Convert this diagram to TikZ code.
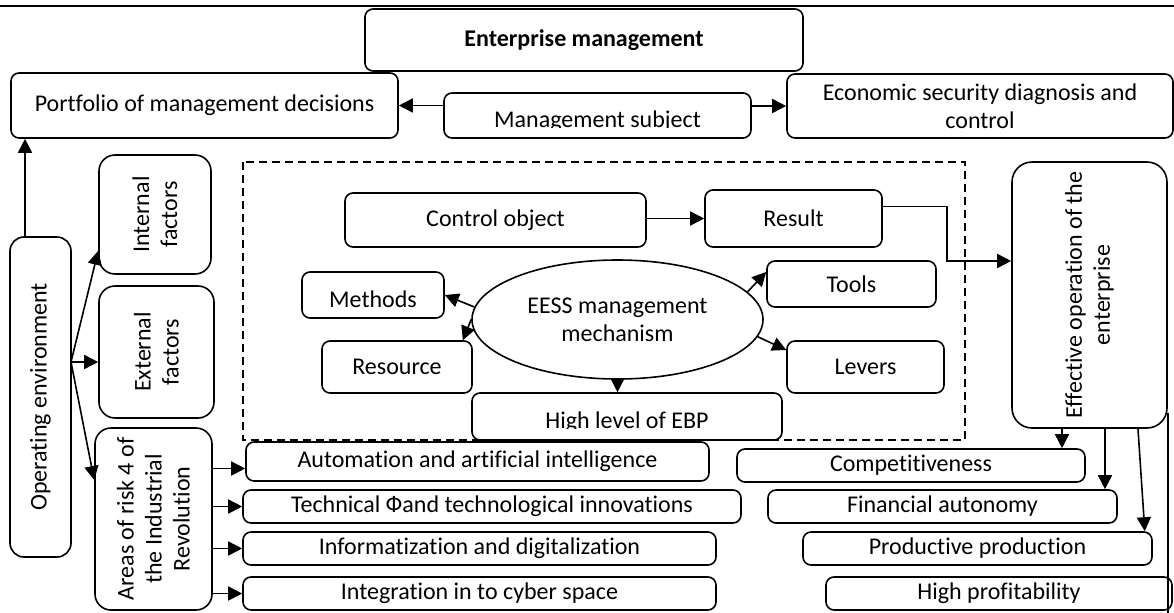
\documentclass[tikz,border=0pt]{standalone}
\usepackage{fontspec}
\setmainfont{Carlito}[Ligatures={NoCommon}]
\usepackage{trimclip}
\usetikzlibrary{arrows.meta,shapes.geometric}

% text whose lower part is cut off by its box
\newcommand{\cuttext}[1]{\clipbox{0pt {\depth} 0pt 0pt}{#1}}

\begin{document}
\begin{tikzpicture}[x=0.5pt, y=-0.5pt, line width=0.8pt, >={Triangle[length=7pt,width=7pt]},
	every node/.style={font=\fontsize{12pt}{14pt}\selectfont},
	box/.style={rectangle, draw, rounded corners=4pt, inner sep=0pt, align=center},
	vbox/.style={box, rotate=90, rounded corners=7pt},
	item/.style={box, minimum height=16.5pt}]
	\useasboundingbox (0,0) rectangle (1174,612);
	\draw[line width=1pt] (0,6) -- (1174,6);

	% top row
	\node[box, font=\fontsize{12pt}{14pt}\selectfont\bfseries, minimum width=219pt, minimum height=31pt] (enterprise) at (584,40) {Enterprise management};
	\node[box, minimum width=193.5pt, minimum height=32.5pt] (portfolio) at (204.5,105.5) {Portfolio of management decisions};
	\node[box, minimum width=153.5pt, minimum height=22.5pt, text height=12pt, text depth=0pt] (subject) at (597.5,115.5) {\cuttext{Management subject}};
	\node[box, minimum width=193pt, minimum height=32pt] (economic) at (980,106) {Economic security diagnosis and\\control};

	% left column
	\node[vbox, minimum width=160pt, minimum height=30.5pt] (openv) at (40.5,397) {Operating environment};
	\node[vbox, rounded corners=8pt, minimum width=59.5pt, minimum height=56pt] (internal) at (155,214.5) {Internal\\factors};
	\node[vbox, rounded corners=8pt, minimum width=66pt, minimum height=57.5pt] (external) at (156.5,352) {External\\factors};
	\node[vbox, rounded corners=8pt, minimum width=91pt, minimum height=58.5pt] (areas) at (153.5,519) {Areas of risk 4 of\\the Industrial\\Revolution};

	% mechanism
	\draw[dashed, dash pattern=on 4pt off 2.5pt] (243,162) rectangle (965,440);
	\node[box, minimum width=150.5pt, minimum height=27pt] (control) at (495.5,220) {Control object};
	\node[box, minimum width=88.5pt, minimum height=28.5pt] (result) at (793.5,218.5) {Result};
	\node[ellipse, draw, inner sep=0pt, align=center, minimum width=145.5pt, minimum height=59.5pt] (eess) at (617.5,319.5) {EESS management\\mechanism};
	\node[box, minimum width=71pt, minimum height=23pt, text height=12pt, text depth=0pt] (methods) at (373,295) {\cuttext{Methods}};
	\node[box, minimum width=75pt, minimum height=26pt] (resource) at (397,367) {Resource};
	\node[box, minimum width=84.5pt, minimum height=23pt] (tools) at (851.5,284) {Tools};
	\node[box, minimum width=78.5pt, minimum height=26pt] (levers) at (865.5,367) {Levers};
	\node[box, minimum width=155pt, minimum height=23.5pt, text height=11.5pt, text depth=0pt] (ebp) at (627,416.5) {\cuttext{High level of EBP}};

	\node[vbox, rounded corners=10pt, minimum width=133pt, minimum height=77.5pt] (effective) at (1089.5,295) {Effective operation of the\\enterprise};

	% risk areas
	\node[item, minimum width=231.5pt, minimum height=19.5pt] (auto) at (477.5,461.5) {Automation and artificial intelligence};
	\node[item, minimum width=249pt] (tech) at (492,506.5) {Technical Фand technological innovations};
	\node[item, minimum width=236.5pt] (info) at (479.5,548.5) {Informatization and digitalization};
	\node[item, minimum width=236.5pt] (integ) at (479.5,593.5) {Integration in to cyber space};

	% results
	\node[item, minimum width=174pt] (comp) at (911,465.5) {Competitiveness};
	\node[item, minimum width=174.5pt] (fin) at (942.5,506.5) {Financial autonomy};
	\node[item, minimum width=174.5pt] (prod) at (977.5,548.5) {Productive production};
	\node[item, minimum width=173pt] (high) at (999,593.5) {High profitability};

	\coordinate (fan) at (71,362);
	\coordinate (bend) at (947,261);

	\draw[->] (subject.west |- portfolio.east) -- (portfolio.east);
	\draw[->] (subject.east |- economic.west) -- (economic.west);
	\draw[->] ([xshift=-7.75pt]openv.east) -- ([xshift=-7.75pt]openv.east |- portfolio.south);
	\draw[->] (fan) -- ([yshift=12pt]internal.north west);
	\draw[->] (fan) -- (fan -| external.north);
	\draw[->] (fan) -- ([yshift=19.5pt]areas.north);

	\draw[->] ([yshift=-3.5pt]areas.south |- auto.west) -- ([yshift=-3.5pt]auto.west);
	\draw[->] (areas.south |- tech.west) -- (tech.west);
	\draw[->] (areas.south |- info.west) -- (info.west);
	\draw[->] (areas.south |- integ.west) -- (integ.west);

	\draw[->] (control.east |- result.west) -- (result.west);
	\draw[->] ([yshift=6pt]result.east) -| (bend) -- ([yshift=17pt]effective.north);
	\draw[->] (eess.175) -- (methods.east);
	\draw[->] (eess.west) -- ([xshift=-5pt]resource.north east);
	\draw[->] (eess.12) -- ([yshift=6pt]tools.west);
	\draw[->] (eess.-7) -- ([yshift=8.5pt]levers.west);
	\draw[->] (eess.south) -- (eess.south |- ebp.north);

	\draw[->] ([xshift=-13.75pt]effective.west) -- ([xshift=-13.75pt]effective.west |- comp.north);
	\draw[->] ([xshift=7.75pt]effective.west) -- ([xshift=7.75pt]effective.west |- fin.north);
	\draw[->] ([xshift=24.25pt]effective.west) -- ([xshift=-4pt]prod.north east);
	\draw[->] ([yshift=-59pt]effective.south) -- ([yshift=-59pt]effective.south |- high.north);
\end{tikzpicture}
\end{document}
